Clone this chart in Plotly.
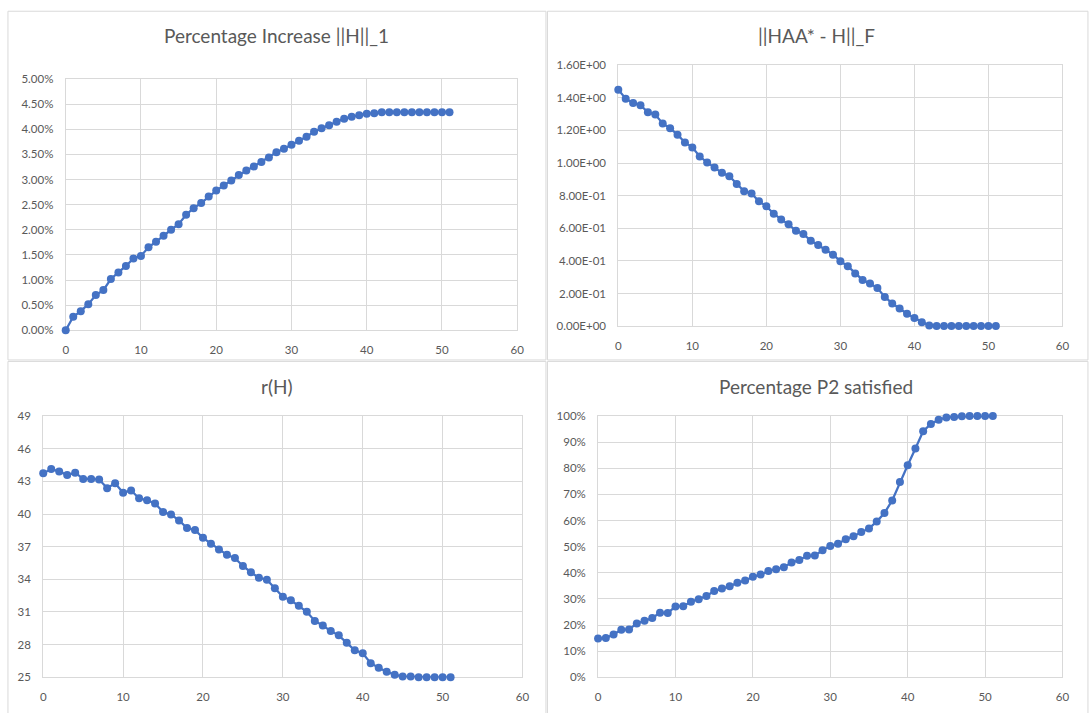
import plotly.graph_objects as go

W, H = 1089, 713

iters = list(range(52))

pct_increase_h1 = [0.00, 0.27, 0.38, 0.52, 0.70, 0.80, 1.02, 1.15, 1.28, 1.43, 1.48,
                   1.65, 1.76, 1.88, 2.00, 2.11, 2.30, 2.43, 2.53, 2.66, 2.78,
                   2.88, 2.98, 3.09, 3.18, 3.26, 3.35, 3.44, 3.54, 3.61, 3.69,
                   3.77, 3.85, 3.95, 4.02, 4.08, 4.15, 4.21, 4.25, 4.28, 4.31,
                   4.32, 4.34, 4.34, 4.34, 4.34, 4.34, 4.34, 4.34, 4.34, 4.34, 4.34]

haa_minus_h_f = [1.450, 1.395, 1.369, 1.355, 1.311, 1.297, 1.243, 1.213, 1.174, 1.126, 1.096,
                 1.040, 1.004, 0.972, 0.940, 0.919, 0.871, 0.827, 0.813, 0.765, 0.735,
                 0.689, 0.654, 0.624, 0.584, 0.564, 0.524, 0.498, 0.468, 0.438, 0.398,
                 0.367, 0.323, 0.283, 0.261, 0.233, 0.179, 0.139, 0.108, 0.076, 0.050,
                 0.024, 0.003, 0.0, 0.0, 0.0, 0.0, 0.0, 0.0, 0.0, 0.0, 0.0]

r_h = [43.74, 44.13, 43.92, 43.59, 43.80, 43.23, 43.23, 43.17, 42.38, 42.83, 41.96,
       42.17, 41.45, 41.27, 40.97, 40.19, 39.95, 39.41, 38.71, 38.53, 37.81,
       37.27, 36.73, 36.25, 35.95, 35.23, 34.65, 34.14, 33.96, 33.18, 32.40,
       32.07, 31.56, 31.02, 30.17, 29.75, 29.24, 28.85, 28.16, 27.47, 27.20,
       26.29, 25.87, 25.51, 25.24, 25.06, 25.06, 25.0, 25.0, 25.0, 25.0, 25.0]

pct_p2_satisfied = [14.8, 15.0, 16.4, 18.2, 18.3, 20.6, 21.6, 22.7, 24.7, 24.6, 27.1,
                    27.2, 28.9, 29.9, 31.1, 33.0, 34.0, 34.8, 36.2, 37.0, 38.5,
                    39.3, 40.7, 41.4, 42.1, 43.9, 44.9, 46.5, 46.6, 48.6, 50.3,
                    51.1, 52.8, 54.0, 55.6, 57.0, 59.6, 62.9, 67.7, 74.8, 81.2,
                    87.6, 94.2, 97.0, 98.6, 99.5, 99.7, 99.9, 100.0, 100.0, 100.0, 100.0]

titles = ["Percentage Increase ||H||_1", "||HAA* - H||_F", "r(H)", "Percentage P2 satisfied"]

y1_ticks = [i * 0.5 for i in range(11)]
y2_ticks = [i * 0.2 for i in range(9)]
y3_ticks = list(range(25, 50, 3))
y4_ticks = list(range(0, 101, 10))
x_ticks = list(range(0, 61, 10))

BLUE = "#4472C4"
GRID = "#d9d9d9"
TXT = "#595959"
FONT = "Lato"


def px(x):
    return x / W


def py(y):
    return 1 - y / H


# plot areas in page pixels: (x0, x1, ytop, ybottom)
areas = [
    (63.3, 519.0, 73.3, 329.3),
    (621.0, 1069.3, 59.3, 325.0),
    (40.6, 524.3, 416.7, 682.7),
    (600.6, 1069.3, 416.7, 682.7),
]
title_pos = [(276, 29), (821.5, 29), (276.7, 387), (821, 387)]

fig = go.Figure()
series = [pct_increase_h1, haa_minus_h_f, r_h, pct_p2_satisfied]
for i, ys in enumerate(series):
    sfx = "" if i == 0 else str(i + 1)
    fig.add_trace(go.Scatter(
        x=iters, y=ys, mode="lines+markers",
        line=dict(color=BLUE, width=2.25),
        marker=dict(color=BLUE, size=8),
        cliponaxis=False,
        xaxis="x" + sfx, yaxis="y" + sfx, showlegend=False,
        hoverinfo="x+y"))

layout = dict(width=W, height=H, margin=dict(l=0, r=0, t=0, b=0),
              paper_bgcolor="white", plot_bgcolor="white",
              font=dict(family=FONT, color=TXT, size=11.5))

yspecs = [
    dict(range=[0, 5], tickvals=y1_ticks, ticktext=["%.2f%%" % v for v in y1_ticks]),
    dict(range=[0, 1.6], tickvals=y2_ticks, ticktext=["%.2E" % v for v in y2_ticks]),
    dict(range=[25, 49], tickvals=y3_ticks, ticktext=[str(v) for v in y3_ticks]),
    dict(range=[0, 100], tickvals=y4_ticks, ticktext=["%d%%" % v for v in y4_ticks]),
]

for i, (x0, x1, yt, yb) in enumerate(areas):
    sfx = "" if i == 0 else str(i + 1)
    layout["xaxis" + sfx] = dict(
        domain=[px(x0), px(x1)], range=[0, 60], tickvals=x_ticks,
        anchor="y" + sfx, showgrid=True, gridcolor=GRID, gridwidth=1,
        showline=True, linecolor=GRID, linewidth=1, mirror=True,
        zeroline=False, ticks="outside", ticklen=9, tickcolor="rgba(0,0,0,0)",
        layer="below traces",
        tickfont=dict(size=11.5, color=TXT, family=FONT), fixedrange=True)
    layout["yaxis" + sfx] = dict(
        domain=[py(yb), py(yt)], anchor="x" + sfx,
        showgrid=True, gridcolor=GRID, gridwidth=1,
        showline=True, linecolor=GRID, linewidth=1, mirror=True,
        zeroline=False, ticks="outside", ticklen=9, tickcolor="rgba(0,0,0,0)",
        layer="below traces",
        tickfont=dict(size=11.5, color=TXT, family=FONT), fixedrange=True,
        **yspecs[i])

fig.update_layout(**layout)

# panel borders (page pixels)
panels = [(5, 4.3, 548, 359.5), (549.5, 4.3, 1095, 359.5),
          (5, 361, 548, 720), (549.5, 361, 1095, 720)]
for (a, b, c, d) in panels:
    fig.add_shape(type="rect", xref="paper", yref="paper",
                  x0=px(a), x1=px(c), y0=py(d), y1=py(b),
                  line=dict(color=GRID, width=1), fillcolor="rgba(0,0,0,0)", layer="below")

for t, (cx, cy) in zip(titles, title_pos):
    fig.add_annotation(text=t, x=px(cx), y=py(cy), xref="paper", yref="paper",
                       showarrow=False, xanchor="center", yanchor="middle",
                       font=dict(family=FONT, size=19, color=TXT))

pin = ("document.documentElement.style.margin='0';document.body.style.margin='0';"
       "document.body.style.overflow='hidden';"
       "var d=document.getElementById('{plot_id}');"
       "d.style.position='fixed';d.style.left='0px';d.style.top='0px';")

fig.write_html("out.html", post_script=pin, config={"displayModeBar": False})
